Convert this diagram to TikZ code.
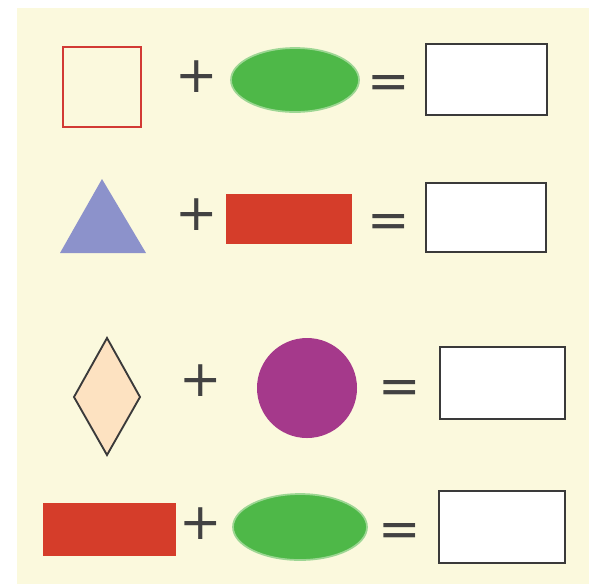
\documentclass[tikz,border=0pt]{standalone}
\usepackage{fontspec}
\setmainfont{DejaVu Sans}
\definecolor{bgyellow}{HTML}{FBF9DD}
\definecolor{symgray}{HTML}{424242}
\definecolor{boxgray}{HTML}{3A3A3A}
\definecolor{sqred}{HTML}{D23A34}
\definecolor{ellgreen}{HTML}{4EB848}
\definecolor{ellrim}{HTML}{9CD693}
\definecolor{rectred}{HTML}{D53D2A}
\definecolor{triblue}{HTML}{8C92CB}
\definecolor{diapeach}{HTML}{FDE2C1}
\definecolor{circpurple}{HTML}{A5398B}
\begin{document}
\begin{tikzpicture}[x=0.75pt,y=-0.75pt,
  sym/.style={text=symgray,inner sep=0pt,font=\fontsize{38}{38}\selectfont},
  answer/.style={draw=boxgray,line width=1.9pt,fill=white},
  greenell/.style={fill=ellgreen,draw=ellrim,line width=1.3pt},
  redrect/.style={fill=rectred},
]
\useasboundingbox (0,0) rectangle (595,587);
\fill[white] (0,0) rectangle (595,587);
\fill[bgyellow] (17,8) rectangle (589,584);
% row 1
\draw[draw=sqred,line width=1.5pt] (63,47) rectangle (141,127);
\node[sym] (p1) at (197,77) {+};
\draw[greenell] (295,80) ellipse [x radius=64, y radius=32];
\node[sym] (e1) at (389,87) {=};
\draw[answer] (426,44) rectangle (547,115);
% row 2
\fill[triblue] (102,179) -- (146,253) -- (60,253) -- cycle;
\node[sym] (p2) at (197,215) {+};
\fill[redrect] (226,194) rectangle (352,244);
\node[sym] (e2) at (389,226) {=};
\draw[answer] (426,183) rectangle (546,252);
% row 3
\draw[fill=diapeach,draw=boxgray,line width=1.4pt] (107,338) -- (140,397) -- (107,455) -- (74,397) -- cycle;
\node[sym] (p3) at (201,381) {+};
\fill[circpurple] (307,388) circle [radius=50];
\node[sym] (e3) at (400,392) {=};
\draw[answer] (440,347) rectangle (565,419);
% row 4
\fill[redrect] (43,503) rectangle (176,556);
\node[sym] (p4) at (201,524) {+};
\draw[greenell] (300,527) ellipse [x radius=67, y radius=33];
\node[sym] (e4) at (400,535) {=};
\draw[answer] (439,491) rectangle (565,563);
\end{tikzpicture}
\end{document}
